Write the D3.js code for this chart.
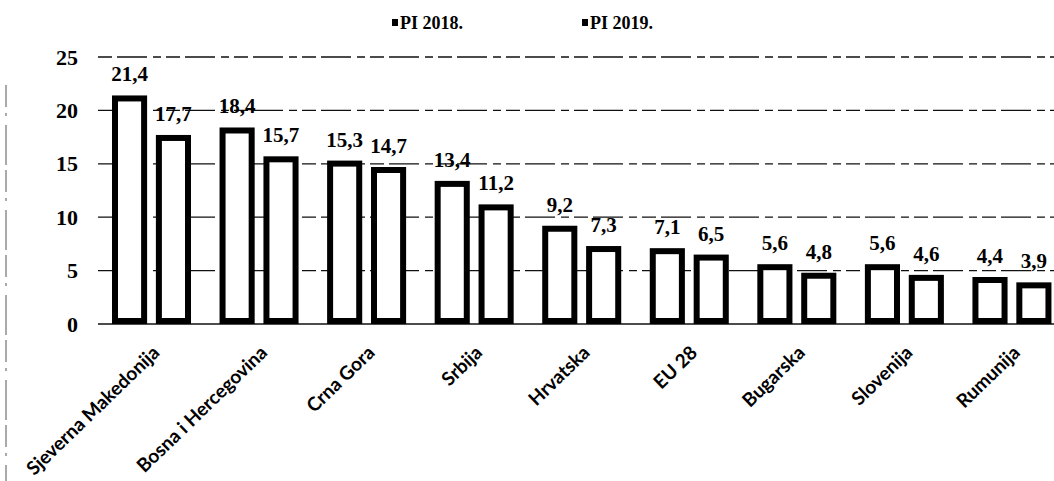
<!DOCTYPE html>
<html>
<head>
<meta charset="utf-8">
<script src="https://cdn.jsdelivr.net/npm/d3@7"></script>
<style>
  body { margin: 0; background: #fff; }
  svg { display: block; }
</style>
</head>
<body>
<div class="chart"></div>
<script>
var svgWidth = 1054;
var svgHeight = 481;

// data
var categories = ["Sjeverna Makedonija", "Bosna i Hercegovina", "Crna Gora", "Srbija",
  "Hrvatska", "EU 28", "Bugarska", "Slovenija", "Rumunija"];
var seriesNames = ["PI 2018.", "PI 2019."];
var pi2018 = [21.4, 18.4, 15.3, 13.4, 9.2, 7.1, 5.6, 5.6, 4.4];
var pi2019 = [17.7, 15.7, 14.7, 11.2, 7.3, 6.5, 4.8, 4.6, 3.9];
var yTicks = [0, 5, 10, 15, 20, 25];

var rows = categories.map(function (c, i) {
  return { cat: c, values: [pi2018[i], pi2019[i]] };
});

var serif = "'Liberation Serif', 'Times New Roman', serif";
var sans = "Lato, 'Open Sans', sans-serif";
var stroke = 6;

var svg = d3.select(".chart")
  .append("svg")
  .attr("width", svgWidth)
  .attr("height", svgHeight);

var x0 = d3.scaleBand()
  .domain(categories)
  .range([98, 1066]);

var x1 = d3.scaleBand()
  .domain([0, 1])
  .range([14, 93])
  .paddingInner(0.2);

var y = d3.scaleLinear()
  .domain([0, 25])
  .range([324, 57]);

// scan border on the left
svg.append("line")
  .attr("x1", 6).attr("x2", 6)
  .attr("y1", 85).attr("y2", 481)
  .attr("stroke", "#555")
  .attr("stroke-width", 1)
  .attr("stroke-dasharray", "22,6,3,9,40,5");

// dashed gridlines
svg.append("g")
  .selectAll("line")
  .data(yTicks)
  .enter().append("line")
  .attr("x1", 98)
  .attr("x2", svgWidth)
  .attr("y1", d => y(d))
  .attr("y2", d => y(d))
  .attr("stroke", "#111")
  .attr("stroke-width", 1.3)
  .attr("stroke-dasharray", d => d === 0 ? "none" : "14,5,30,6,8,5");

// y axis labels
var leftAxis = d3.axisLeft(y).tickValues(yTicks).tickSize(0).tickPadding(0);
var yAxisG = svg.append("g")
  .attr("transform", "translate(78,0)")
  .call(leftAxis);
yAxisG.select(".domain").remove();
yAxisG.selectAll("text")
  .attr("font-family", serif)
  .attr("font-weight", "bold")
  .attr("font-size", 22)
  .attr("fill", "#000");

// bars
var groups = svg.append("g")
  .selectAll("g")
  .data(rows)
  .enter().append("g")
  .attr("transform", d => "translate(" + x0(d.cat) + ",0)");

var fmt = d3.format(".1f");

groups.selectAll("rect")
  .data(d => d.values.map((v, i) => ({ v: v, i: i })))
  .enter().append("rect")
  .attr("x", d => x1(d.i) + stroke / 2)
  .attr("y", d => y(d.v) + stroke / 2)
  .attr("width", x1.bandwidth() - stroke)
  .attr("height", d => y(0) - y(d.v) - stroke)
  .attr("fill", "#fff")
  .attr("stroke", "#000")
  .attr("stroke-width", stroke);

groups.selectAll(".val")
  .data(d => d.values.map((v, i) => ({ v: v, i: i })))
  .enter().append("text")
  .attr("class", "val")
  .attr("x", d => x1(d.i) + x1.bandwidth() / 2)
  .attr("y", d => y(d.v) - 14)
  .attr("text-anchor", "middle")
  .attr("font-family", serif)
  .attr("font-weight", "bold")
  .attr("font-size", 21)
  .text(d => fmt(d.v).replace(".", ","));

// category labels
var bottomAxis = d3.axisBottom(x0).tickSize(0).tickPadding(0);
var xAxisG = svg.append("g")
  .call(bottomAxis);
xAxisG.select(".domain").remove();
xAxisG.selectAll("text")
  .attr("y", 0)
  .attr("dy", 0)
  .attr("transform", "translate(9,354) rotate(-44)")
  .attr("text-anchor", "end")
  .attr("font-family", sans)
  .attr("font-weight", "bold")
  .attr("font-size", 19)
  .attr("fill", "#000");

// legend
var legendX = [392, 582];
var legend = svg.append("g")
  .selectAll("g")
  .data(seriesNames)
  .enter().append("g")
  .attr("transform", (d, i) => "translate(" + legendX[i] + ",17)");

legend.append("rect")
  .attr("width", 6)
  .attr("height", 7)
  .attr("y", 2)
  .attr("fill", "#000");

legend.append("text")
  .attr("x", 8)
  .attr("y", 12)
  .attr("font-family", serif)
  .attr("font-weight", "bold")
  .attr("font-size", 18)
  .text(d => d);
</script>
</body>
</html>
